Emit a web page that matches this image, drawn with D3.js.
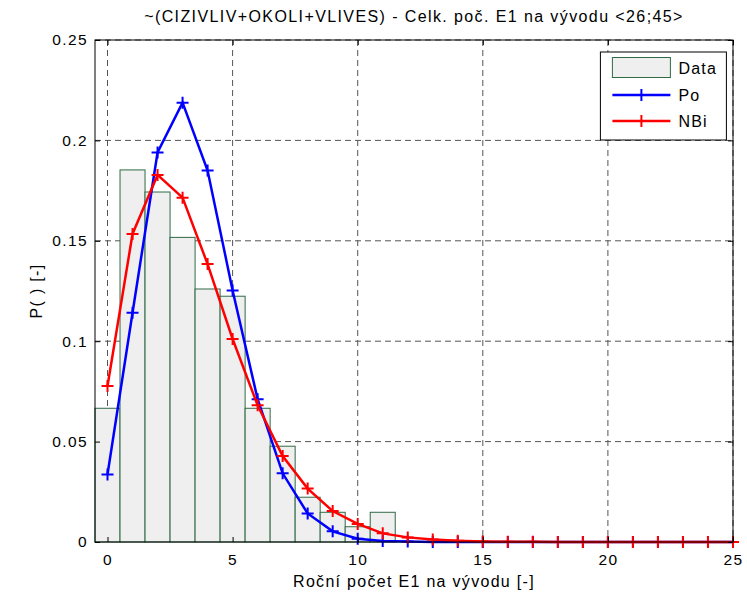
<!DOCTYPE html>
<html>
<head>
<meta charset="utf-8">
<script src="https://cdn.jsdelivr.net/npm/d3@7"></script>
<style>
  body { margin: 0; background: #fff; }
  text { font-family: "Liberation Sans", Arial, sans-serif; fill: #000; }
</style>
</head>
<body>
<div id="chart"></div>
<script>
// histogram of observed counts (bin centre = count)
var bins = [0, 1, 2, 3, 4, 5, 6, 7, 8, 9, 10, 11];
var dataP = [0.0666, 0.1853, 0.1743, 0.1517, 0.126, 0.1224, 0.0666, 0.0477, 0.0223, 0.0148, 0.0076, 0.0148];

// fitted distributions
var counts = [0, 1, 2, 3, 4, 5, 6, 7, 8, 9, 10, 11, 12, 13, 14, 15, 16, 17, 18, 19, 20, 21, 22, 23, 24, 25];
var po = [0.0336, 0.1142, 0.1940, 0.2188, 0.1850, 0.1253, 0.0711, 0.0342, 0.0142, 0.0053, 0.0016, 0.0005, 0.0002, 0.00004, 0.00001,
  0, 0, 0, 0, 0, 0, 0, 0, 0, 0, 0];
var nbi = [0.0777, 0.1534, 0.1828, 0.1715, 0.1384, 0.1011, 0.0681, 0.0428, 0.0266, 0.0154, 0.0090, 0.0043, 0.0023, 0.0012, 0.0006,
  0.0003, 0.00015, 0.00007, 0.00003, 0.00001, 0, 0, 0, 0, 0, 0];

var xTicks = [0, 5, 10, 15, 20, 25];
var yTicks = [0, 0.05, 0.1, 0.15, 0.2, 0.25];

var margin = { top: 40, right: 14, bottom: 53, left: 95 },
  width = 747 - margin.left - margin.right,
  height = 595 - margin.top - margin.bottom;

var svg = d3.select("#chart")
  .append("svg")
  .attr("width", 747)
  .attr("height", 595)
  .append("g")
  .attr("transform", "translate(" + margin.left + "," + margin.top + ")");

var x = d3.scaleLinear()
  .domain([-0.5, 25])
  .range([0, width]);

var y = d3.scaleLinear()
  .domain([0, 0.25])
  .range([height, 0]);

// grid
svg.append("g")
  .selectAll("line")
  .data(xTicks)
  .enter()
  .append("line")
  .attr("x1", function (d) { return x(d); })
  .attr("x2", function (d) { return x(d); })
  .attr("y1", 0)
  .attr("y2", height)
  .attr("stroke", "#555")
  .attr("stroke-width", 1)
  .attr("stroke-dasharray", "6,4");

svg.append("g")
  .selectAll("line")
  .data(yTicks.slice(1))
  .enter()
  .append("line")
  .attr("x1", 0)
  .attr("x2", width)
  .attr("y1", function (d) { return y(d); })
  .attr("y2", function (d) { return y(d); })
  .attr("stroke", "#555")
  .attr("stroke-width", 1)
  .attr("stroke-dasharray", "6,4");

// histogram bars
svg.append("g")
  .selectAll("rect")
  .data(bins)
  .enter()
  .append("rect")
  .attr("x", function (d) { return x(d - 0.5); })
  .attr("width", function (d) { return x(d + 0.5) - x(d - 0.5); })
  .attr("y", function (d, i) { return y(dataP[i]); })
  .attr("height", function (d, i) { return y(0) - y(dataP[i]); })
  .attr("fill", "#efefef")
  .attr("stroke", "#2f6a45")
  .attr("stroke-width", 1);

// fitted lines with + markers
function series(vals, color) {
  var line = d3.line()
    .x(function (d) { return x(d); })
    .y(function (d, i) { return y(vals[i]); });

  svg.append("path")
    .datum(counts)
    .attr("d", line)
    .attr("fill", "none")
    .attr("stroke", color)
    .attr("stroke-width", 2.5);

  svg.append("g")
    .selectAll("path")
    .data(counts)
    .enter()
    .append("path")
    .attr("d", function (d, i) {
      var cx = x(d), cy = y(vals[i]);
      return "M" + (cx - 6) + "," + cy + "H" + (cx + 6) + "M" + cx + "," + (cy - 6) + "V" + (cy + 6);
    })
    .attr("stroke", color)
    .attr("stroke-width", 2);
}
series(po, "#0000ff");
series(nbi, "#ff0000");

// axes box + inward ticks (matlab style)
svg.append("rect")
  .attr("width", width)
  .attr("height", height)
  .attr("fill", "none")
  .attr("stroke", "#000")
  .attr("stroke-width", 1);

svg.append("g")
  .call(d3.axisBottom(x).tickValues(xTicks).tickSize(-5).tickPadding(12))
  .attr("transform", "translate(0," + height + ")")
  .call(function (g) { g.select(".domain").remove(); });

svg.append("g")
  .call(d3.axisTop(x).tickValues(xTicks).tickSize(-5).tickFormat(""))
  .call(function (g) { g.select(".domain").remove(); });

svg.append("g")
  .call(d3.axisLeft(y).tickValues(yTicks).tickSize(-5).tickPadding(7).tickFormat(d3.format("~g")))
  .call(function (g) { g.select(".domain").remove(); });

svg.append("g")
  .attr("transform", "translate(" + width + ",0)")
  .call(d3.axisRight(y).tickValues(yTicks).tickSize(-5).tickFormat(""))
  .call(function (g) { g.select(".domain").remove(); });

svg.selectAll(".tick text")
  .style("font-size", "15.5px")
  .style("letter-spacing", "1.4px")
  .attr("fill", "#000");

// title and labels
svg.append("text")
  .attr("x", width / 2)
  .attr("y", -18)
  .attr("text-anchor", "middle")
  .style("font-size", "16px")
  .style("letter-spacing", "1.4px")
  .text("~(CIZIVLIV+OKOLI+VLIVES) - Celk. poč. E1 na vývodu <26;45>");

svg.append("text")
  .attr("x", width / 2)
  .attr("y", height + 45)
  .attr("text-anchor", "middle")
  .style("font-size", "16px")
  .style("letter-spacing", "1.3px")
  .text("Roční počet E1 na vývodu [-]");

svg.append("text")
  .attr("transform", "rotate(-90)")
  .attr("x", -height / 2)
  .attr("y", -53)
  .attr("text-anchor", "middle")
  .style("font-size", "16px")
  .style("letter-spacing", "1.3px")
  .text("P( ) [-]");

// legend
var lg = svg.append("g").attr("transform", "translate(" + (x(19.7)) + ",12)");
lg.append("rect")
  .attr("width", 126)
  .attr("height", 88)
  .attr("fill", "#fff")
  .attr("stroke", "#000");
lg.append("rect")
  .attr("x", 12).attr("y", 5.5)
  .attr("width", 58).attr("height", 20)
  .attr("fill", "#efefef")
  .attr("stroke", "#2f6a45");
var items = [["Po", "#0000ff", 43], ["NBi", "#ff0000", 69]];
items.forEach(function (it) {
  lg.append("line")
    .attr("x1", 12).attr("x2", 70)
    .attr("y1", it[2]).attr("y2", it[2])
    .attr("stroke", it[1]).attr("stroke-width", 2.5);
  lg.append("path")
    .attr("d", "M41," + (it[2] - 6) + "V" + (it[2] + 6))
    .attr("stroke", it[1]).attr("stroke-width", 2);
});
[["Data", 16], ["Po", 43], ["NBi", 69]].forEach(function (t) {
  lg.append("text")
    .attr("x", 78)
    .attr("y", t[1])
    .attr("dy", "0.35em")
    .style("font-size", "16px")
    .style("letter-spacing", "1.2px")
    .text(t[0]);
});
</script>
</body>
</html>
